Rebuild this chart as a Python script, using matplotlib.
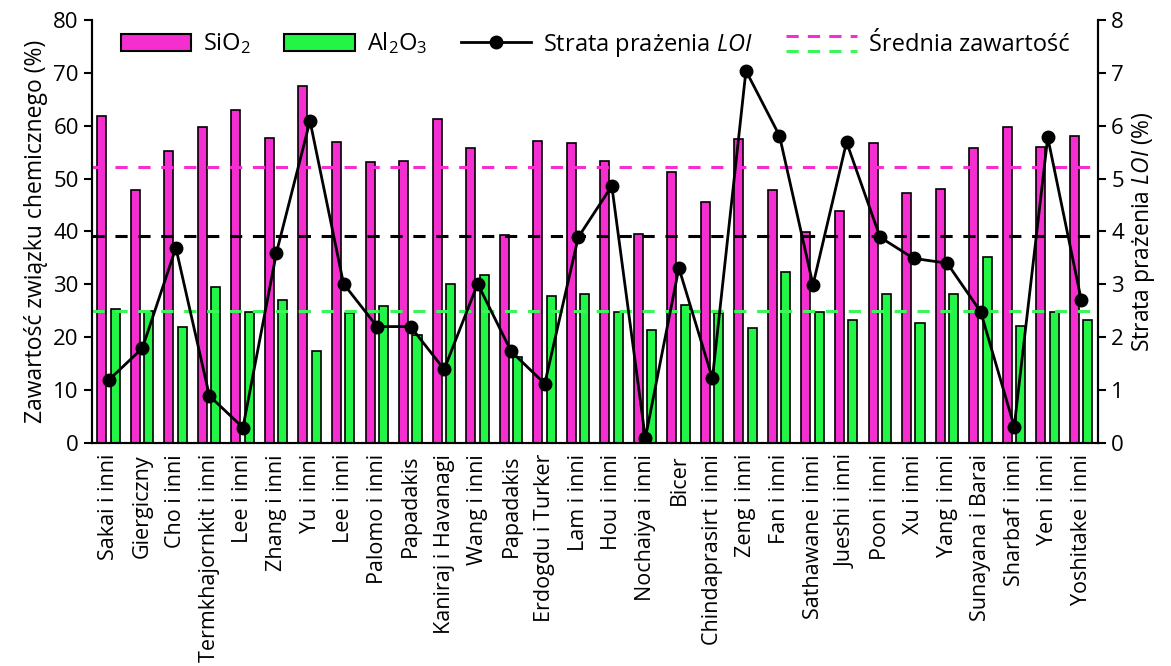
import numpy as np
import matplotlib
matplotlib.use("Agg")
import matplotlib.pyplot as plt
from matplotlib.patches import Patch
from matplotlib.lines import Line2D
from matplotlib.legend_handler import HandlerBase

plt.rcParams['font.family'] = ['Open Sans', 'DejaVu Sans']
plt.rcParams['mathtext.fontset'] = 'custom'
plt.rcParams['mathtext.rm'] = 'Open Sans'
plt.rcParams['mathtext.it'] = 'Open Sans:italic'

authors = ["Sakai i inni", "Giergiczny", "Cho i inni", "Termkhajornkit i inni", "Lee i inni",
           "Zhang i inni", "Yu i inni", "Lee i inni", "Palomo i inni", "Papadakis",
           "Kaniraj i Havanagi", "Wang i inni", "Papadakis", "Erdogdu i Turker", "Lam i inni",
           "Hou i inni", "Nochaiya i inni", "Bicer", "Chindaprasirt i inni", "Zeng i inni",
           "Fan i inni", "Sathawane i inni", "Jueshi i inni", "Poon i inni", "Xu i inni",
           "Yang i inni", "Sunayana i Barai", "Sharbaf i inni", "Yen i inni", "Yoshitake i inni"]

sio2 = [61.9, 47.9, 55.3, 59.8, 63.0, 57.6, 67.6, 57.0, 53.1, 53.4,
        61.2, 55.8, 39.3, 57.2, 56.7, 53.4, 39.6, 51.2, 45.6, 57.5,
        47.9, 39.9, 43.9, 56.7, 47.2, 48.1, 55.7, 59.8, 55.9, 58.1]

al2o3 = [25.4, 24.9, 21.9, 29.5, 24.7, 27.0, 17.3, 24.6, 25.9, 20.4,
         30.0, 31.7, 16.2, 27.7, 28.1, 24.8, 21.4, 26.1, 24.5, 21.8,
         32.3, 24.8, 23.3, 28.1, 22.7, 28.1, 35.1, 22.1, 24.8, 23.3]

loi = [1.19, 1.79, 3.69, 0.89, 0.29, 3.60, 6.09, 3.01, 2.20, 2.20,
       1.39, 3.01, 1.73, 1.12, 3.89, 4.86, 0.09, 3.31, 1.22, 7.04,
       5.81, 2.99, 5.69, 3.89, 3.49, 3.40, 2.48, 0.31, 5.78, 2.70]

# average contents as drawn in the source figure
mean_sio2 = 52.2
mean_al2o3 = 25.0
mean_loi = 3.92

pink = '#F52ECF'
green = '#22F546'
green_dash = '#3CF55A'

x = np.arange(len(authors))
w = 0.27

fig = plt.figure(figsize=(11.71, 6.66), dpi=100)
ax = fig.add_axes([0.0786, 0.335, 0.8591, 0.635])
ax2 = ax.twinx()

ax.bar(x - 0.21, sio2, w, color=pink, edgecolor='black', linewidth=1.2, zorder=2)
ax.bar(x + 0.19, al2o3, w, color=green, edgecolor='black', linewidth=1.2, zorder=2)

ax.axhline(mean_sio2, color=pink, ls=(0, (4, 3.5)), lw=2.2, zorder=3)
ax.axhline(mean_al2o3, color=green_dash, ls=(0, (4, 3.5)), lw=2.2, zorder=3)
ax2.axhline(mean_loi, color='black', ls=(0, (4, 3.5)), lw=2.2, zorder=3)

ax2.plot(x, loi, color='black', lw=2, marker='o', ms=9, zorder=4)

ax.set_xlim(-0.5, len(authors) - 0.5)
ax.set_ylim(0, 80)
ax2.set_ylim(0, 8)
ax.set_yticks(np.arange(0, 81, 10))
ax2.set_yticks(np.arange(0, 9, 1))
ax.set_xticks(x)
ax.set_xticklabels(authors, rotation=90, fontsize=15.5)
ax.tick_params(axis='x', length=0, pad=8)
ax.tick_params(axis='y', labelsize=16, width=1.5, length=6)
ax2.tick_params(axis='y', labelsize=16, width=1.5, length=6)

for a in (ax, ax2):
    a.spines['top'].set_visible(False)
    for s in ('left', 'right', 'bottom'):
        a.spines[s].set_linewidth(1.5)

ax.set_ylabel('Zawartość związku chemicznego (%)', fontsize=16.5)
ax2.set_ylabel('Strata prażenia $\\mathit{LOI}$ (%)', fontsize=16.5)


class TwoDash(HandlerBase):
    def create_artists(self, legend, orig_handle, xdescent, ydescent, width, height, fontsize, trans):
        x0, x1 = -xdescent, -xdescent + width
        out = []
        for yy, c in ((0.9, pink), (0.0, green_dash)):
            ln = Line2D([x0, x1], [yy * height - ydescent] * 2, color=c, lw=2.2, ls=(0, (4, 3)))
            ln.set_transform(trans)
            out.append(ln)
        return out


class MeanKey:
    pass


handles = [Patch(facecolor=pink, edgecolor='black', linewidth=1.5),
           Patch(facecolor=green, edgecolor='black', linewidth=1.5),
           Line2D([], [], color='black', lw=2, marker='o', ms=9),
           MeanKey()]
labels = ['SiO$_2$', 'Al$_2$O$_3$', 'Strata prażenia $\\mathit{LOI}$', 'Średnia zawartość']
ax2.legend(handles, labels, handler_map={MeanKey: TwoDash()}, ncol=4, loc='upper center',
           bbox_to_anchor=(0.5, 1.025), frameon=False, fontsize=17, handlelength=3.0,
           columnspacing=1.4, handletextpad=0.5)

fig.savefig('out.png', dpi=100)
